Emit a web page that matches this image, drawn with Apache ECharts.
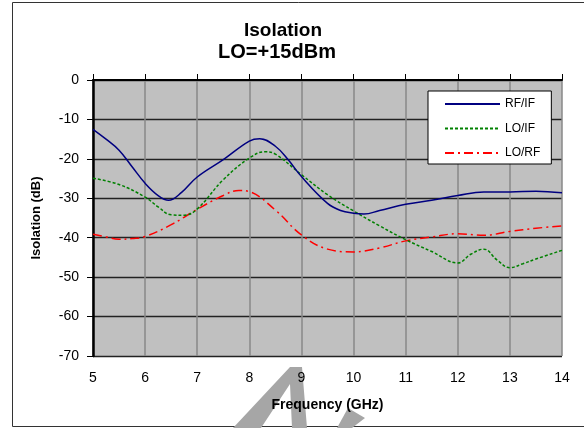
<!DOCTYPE html>
<html><head><meta charset="utf-8">
<script src="https://cdn.jsdelivr.net/npm/echarts@6/dist/echarts.min.js"></script>
<style>html,body{margin:0;padding:0;background:#fff}#c{width:584px;height:428px}</style>
</head><body><div id="c"></div>
<script>
var rfifFreq = [5.0, 5.25, 5.5, 5.75, 6.0, 6.25, 6.45, 6.7, 7.0, 7.5, 8.0, 8.2, 8.5, 8.75, 9.0, 9.5, 9.75, 10.0, 10.2, 10.5, 11.0, 11.5, 12.0, 12.5, 13.0, 13.5, 14.0];
var rfifVal  = [-12.5, -15, -17.8, -22, -26.2, -29.3, -30.5, -28.5, -24.6, -20.2, -15.5, -14.9, -16.8, -20.3, -24.5, -31.3, -33.1, -33.8, -34.0, -33.1, -31.5, -30.5, -29.3, -28.4, -28.4, -28.2, -28.6];
var loifFreq = [5.0, 5.5, 6.0, 6.25, 6.5, 6.75, 7.0, 7.5, 8.0, 8.3, 8.5, 9.0, 9.5, 10.0, 10.5, 11.0, 11.5, 12.0, 12.25, 12.5, 12.75, 13.0, 13.25, 13.5, 14.0];
var loifVal  = [-24.9, -26.5, -29.7, -32.2, -34.2, -34.3, -32.7, -25.3, -19.8, -18.2, -18.8, -24.0, -29.1, -33.2, -37.0, -40.5, -43.5, -46.4, -44.2, -42.9, -45.6, -47.6, -46.6, -45.4, -43.2];
var lorfFreq = [5.0, 5.25, 5.5, 5.75, 6.0, 6.5, 7.0, 7.5, 7.8, 8.0, 8.5, 9.0, 9.5, 10.0, 10.5, 11.0, 11.5, 12.0, 12.5, 13.0, 13.5, 14.0];
var lorfVal  = [-39.1, -39.8, -40.4, -40.2, -39.7, -36.7, -32.8, -29.3, -28.0, -28.3, -33.0, -39.3, -42.9, -43.6, -42.6, -40.8, -39.8, -39.0, -39.4, -38.4, -37.6, -37.0];
var seriesNames = ['RF/IF', 'LO/IF', 'LO/RF'];
var titleLines = ['Isolation', 'LO=+15dBm'];
var xName = 'Frequency (GHz)';
var yName = 'Isolation (dB)';

function pairs(xs, ys){ return xs.map(function(x,i){ return [x, ys[i]]; }); }

var chart = echarts.init(document.getElementById('c'), null, {renderer:'canvas'});
var font = 'Liberation Sans, Arial, sans-serif';
chart.setOption({
  animation: false,
  backgroundColor: '#fff',
  textStyle: {fontFamily: font},
  title: [
    {text: titleLines[0], left: 283, top: 21, textAlign: 'center', padding: 0,
     textStyle: {fontFamily: font, fontSize: 19, fontWeight: 'bold', color: '#000'}},
    {text: titleLines[1], left: 277, top: 42, textAlign: 'center', padding: 0,
     textStyle: {fontFamily: font, fontSize: 20, fontWeight: 'bold', color: '#000'}}
  ],
  graphic: [
    {type:'rect', shape:{x:12.5, y:2.5, width:600, height:424}, style:{fill:null, stroke:'#333', lineWidth:1}, z:-10, silent:true},
    {type:'polygon', shape:{points:[[233,428],[290,367],[302,367],[307,428],[292,428],[290,384],[261,428]]}, style:{fill:'#a6a6a6'}, z:-5, silent:true},
    {type:'polygon', shape:{points:[[337,428],[348,408],[365,418],[352,428]]}, style:{fill:'#a6a6a6'}, z:-5, silent:true}
  ],
  legend: {
    orient: 'vertical', left: 428, top: 91,
    backgroundColor: '#fff', borderColor: '#000', borderWidth: 1,
    padding: [7, 11, 5, 16], itemWidth: 55, itemHeight: 14, itemGap: 12.5,
    itemStyle: {opacity: 0},
    textStyle: {fontFamily: font, fontSize: 12, color: '#000'},
    data: seriesNames
  },
  grid: {left: 93, right: 22, top: 80, bottom: 72, show: true, backgroundColor: '#c0c0c0', borderWidth: 0},
  xAxis: [
    {type:'value', position:'bottom', min:5, max:14, interval:1,
     name: xName, nameLocation:'middle', nameGap: 42,
     nameTextStyle:{fontFamily:font, fontSize:14, fontWeight:'bold', color:'#000'},
     axisLine:{show:true, lineStyle:{color:'#999', width:2}},
     axisTick:{show:false},
     axisLabel:{fontFamily:font, fontSize:14, color:'#000', margin:15},
     splitLine:{show:true, lineStyle:{color:'#888', width:1.5}}},
    {type:'value', position:'top', min:5, max:14, interval:1,
     axisLine:{show:true, onZero:false, lineStyle:{color:'#000', width:2}},
     axisTick:{show:true, length:6, lineStyle:{color:'#000', width:1}},
     axisLabel:{show:false}, splitLine:{show:false}}
  ],
  yAxis: [
    {type:'value', min:-70, max:0, interval:10,
     name: yName, nameLocation:'middle', nameGap: 50, nameRotate: 90,
     nameTextStyle:{fontFamily:font, fontSize:13, fontWeight:'bold', color:'#000'},
     axisLine:{show:true, onZero:false, lineStyle:{color:'#000', width:2.5}},
     axisTick:{show:true, length:6, lineStyle:{color:'#000', width:1}},
     axisLabel:{fontFamily:font, fontSize:14, color:'#000', margin:14},
     splitLine:{show:true, lineStyle:{color:'#222', width:1.3}}}
  ],
  series: [
    {name: seriesNames[0], type:'line', smooth:0.4, symbol:'none', data: pairs(rfifFreq, rfifVal),
     lineStyle:{color:'#000080', width:1.5}, itemStyle:{color:'#000080'}, z:5},
    {name: seriesNames[1], type:'line', smooth:0.4, symbol:'none', data: pairs(loifFreq, loifVal),
     lineStyle:{color:'#008000', width:1.5, type:[3,2]}, itemStyle:{color:'#008000'}, z:4},
    {name: seriesNames[2], type:'line', smooth:0.4, symbol:'none', data: pairs(lorfFreq, lorfVal),
     lineStyle:{color:'#ff0000', width:1.5, type:[9,4,2,4]}, itemStyle:{color:'#ff0000'}, z:3}
  ]
});
</script></body></html>
